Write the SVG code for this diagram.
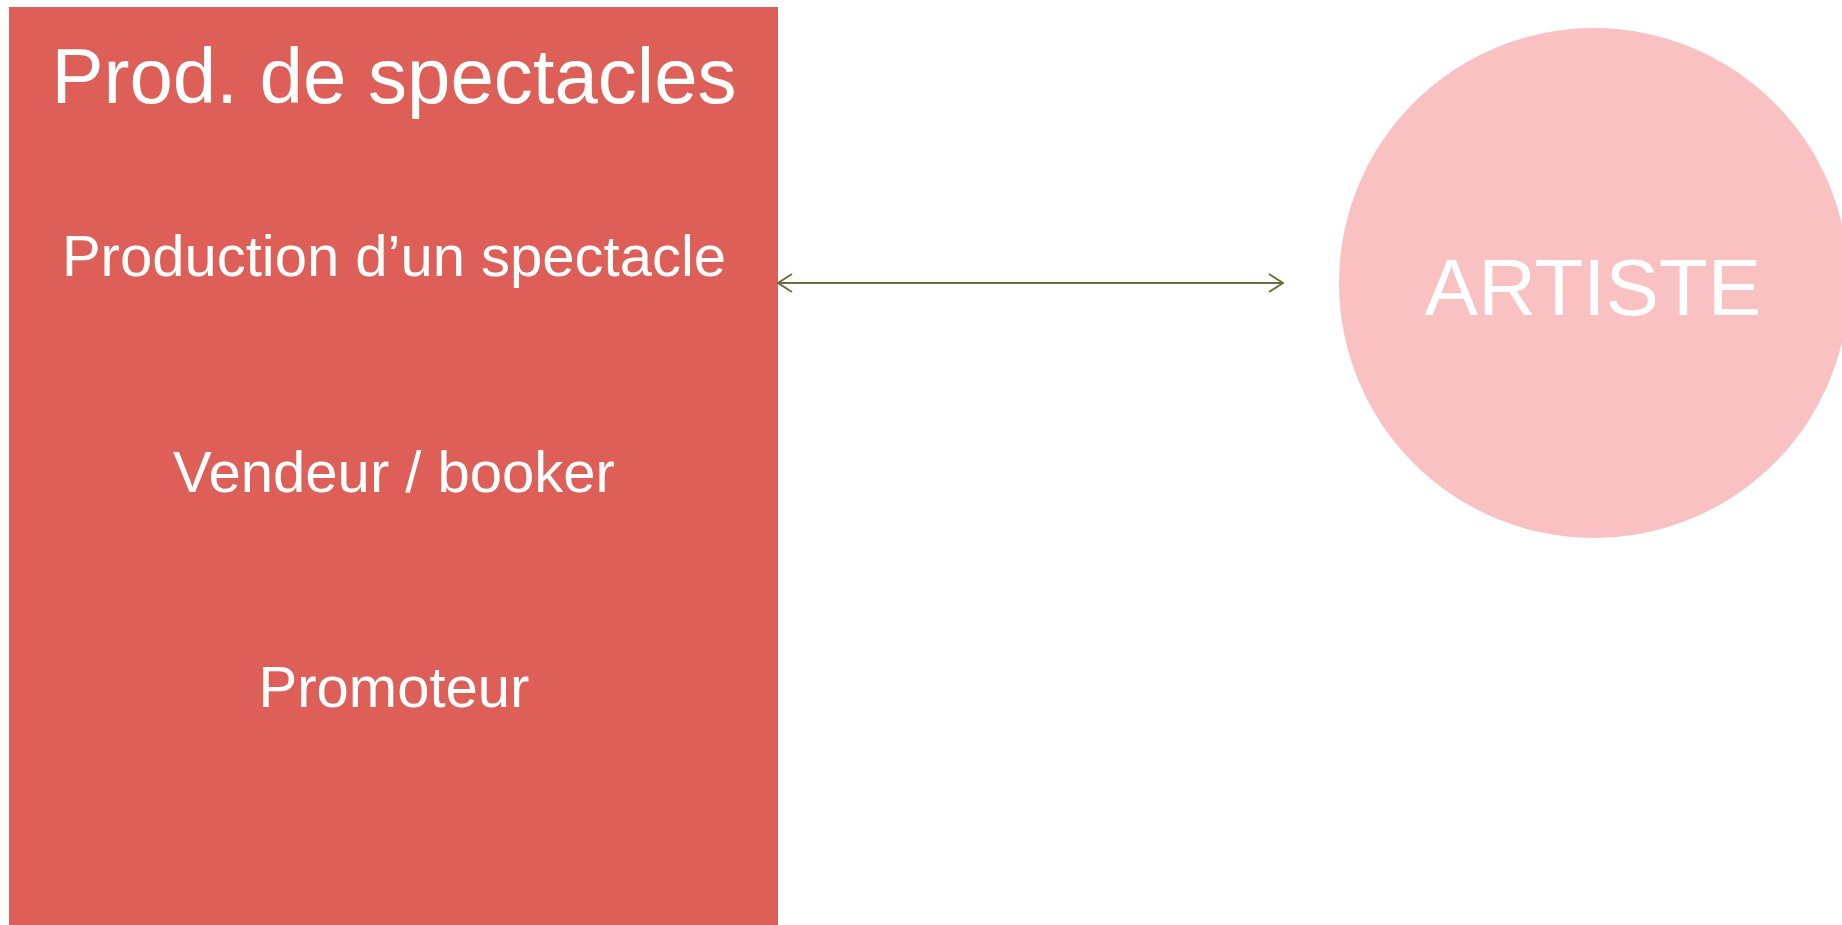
<svg xmlns="http://www.w3.org/2000/svg" width="1842" height="925" viewBox="0 0 1842 925">
<style>
text{font-family:"Liberation Sans",Arial,sans-serif;fill:#ffffff;text-anchor:middle}
.item{font-size:58px}
.conn{stroke:#6b6d3b;stroke-width:2;fill:none}
</style>
<defs>
<marker id="arr" viewBox="0 0 16 20" refX="15" refY="10" markerWidth="16" markerHeight="20" markerUnits="userSpaceOnUse" orient="auto-start-reverse">
<path d="M1,1 L15,10 L1,19" fill="none" stroke="#6b6d3b" stroke-width="2"/>
</marker>
</defs>
<rect width="1842" height="925" fill="#ffffff"/>
<g id="prod">
<rect x="9" y="7" width="769" height="920" fill="#dd5f57"/>
<text x="394" y="103" font-size="78">Prod. de spectacles</text>
<text class="item" x="394" y="276">Production d’un spectacle</text>
<text class="item" x="394" y="492">Vendeur / booker</text>
<text class="item" x="394" y="707">Promoteur</text>
</g>
<g id="artiste">
<circle cx="1594" cy="283" r="255" fill="#f9c1c1"/>
<text x="1593" y="315" font-size="80">ARTISTE</text>
</g>
<g id="connectors">
<line class="conn" x1="778" y1="283" x2="1283" y2="283" marker-start="url(#arr)" marker-end="url(#arr)"/>
</g>
</svg>
